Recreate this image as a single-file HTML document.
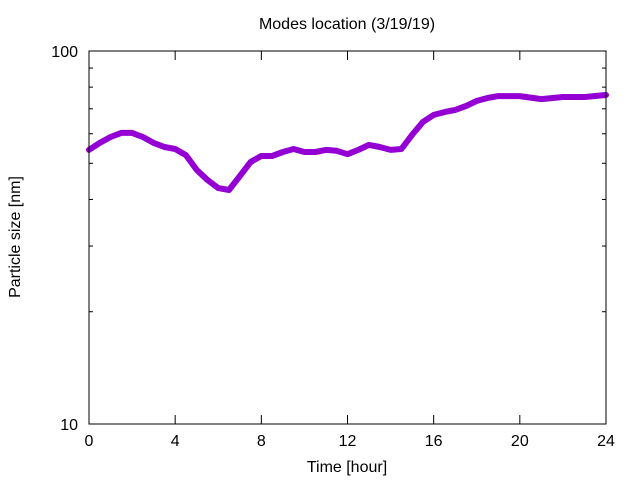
<!DOCTYPE html>
<html><head><meta charset="utf-8"><style>body{margin:0;background:#fff}svg{display:block}text{font-family:"Liberation Sans",sans-serif;font-size:16px;fill:#000}</style></head>
<body>
<svg id="chart" width="640" height="480" xmlns="http://www.w3.org/2000/svg">
<text x="347" y="29" text-anchor="middle">Modes location (3/19/19)</text>
<text x="347" y="472" text-anchor="middle">Time [hour]</text>
<text transform="translate(20,237) rotate(-90)" text-anchor="middle">Particle size [nm]</text>
<g id="axes"></g>
<g id="series"></g>
<rect x="89" y="51" width="517" height="373" fill="none" stroke="#000" stroke-width="1"/>
</svg>
<script>
const times=[0,0.5,1,1.5,2,2.5,3,3.5,4,4.5,5,5.5,6,6.5,7,7.5,8,8.5,9,9.5,10,10.5,11,11.5,12,12.5,13,13.5,14,14.5,15,15.5,16,16.5,17,17.5,18,18.5,19,20,21,22,23,24];
const sizes=[54.3,56.7,58.8,60.3,60.3,58.8,56.7,55.3,54.6,52.6,48.0,45.1,42.9,42.4,46.2,50.4,52.3,52.3,53.6,54.6,53.6,53.6,54.3,54.0,52.9,54.3,56.0,55.3,54.3,54.6,59.6,64.5,67.4,68.6,69.5,71.2,73.5,74.8,75.7,75.7,74.3,75.3,75.3,76.2];
const xTicks=[0,4,8,12,16,20,24];
const yMajor=[10,100];
const yMinor=[20,30,40,50,60,70,80,90];
const L=89,R=606,T=51,B=424;
const xs=t=>L+t/24*(R-L);
const ys=v=>B-(Math.log10(v)-1)*(B-T);
const NS="http://www.w3.org/2000/svg";
const ax=document.getElementById('axes');
function ln(x1,y1,x2,y2){const l=document.createElementNS(NS,'line');l.setAttribute('x1',x1);l.setAttribute('y1',y1);l.setAttribute('x2',x2);l.setAttribute('y2',y2);l.setAttribute('stroke','#000');ax.appendChild(l);return l;}
function tx(x,y,s,a){const t=document.createElementNS(NS,'text');t.setAttribute('x',x);t.setAttribute('y',y);t.setAttribute('text-anchor',a);t.textContent=s;ax.appendChild(t);return t;}
xTicks.forEach(v=>{const x=xs(v);
const a=ln(x,B,x,B-9);


const b=ln(x,T,x,T+9);


const t=tx(x,446,String(v),'middle');

});
yMajor.forEach(v=>{const y=ys(v);
const a=ln(L,y,L+9,y);


const b=ln(R,y,R-9,y);


const t=tx(78,y+6,String(v),'end');

});
yMinor.forEach(v=>{const y=ys(v);
const a=ln(L,y,L+4,y);


const b=ln(R,y,R-4,y);

});
const p=document.createElementNS(NS,'polyline');
p.setAttribute('points',times.map((t,i)=>xs(t).toFixed(1)+','+ys(sizes[i]).toFixed(1)).join(' '));
p.setAttribute('fill','none');p.setAttribute('stroke','#9400d3');p.setAttribute('stroke-width','6');p.setAttribute('stroke-linejoin','round');p.setAttribute('stroke-linecap','round');


document.getElementById('series').appendChild(p);
</script>
</body></html>
